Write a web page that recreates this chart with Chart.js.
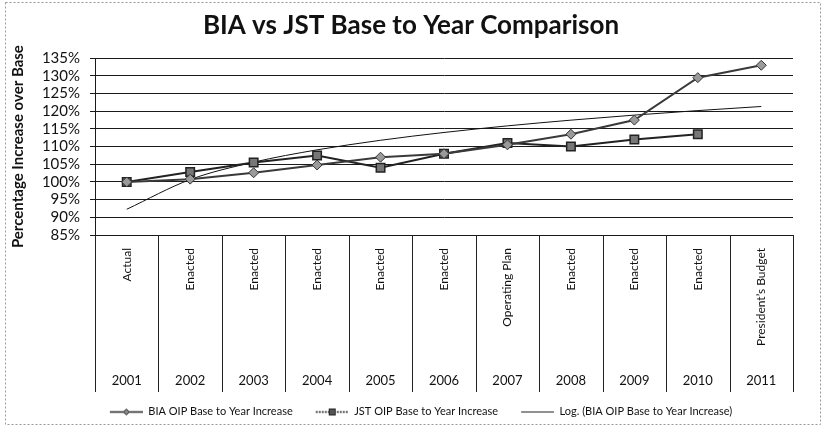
<!DOCTYPE html>
<html>
<head>
<meta charset="utf-8">
<script src="https://cdn.jsdelivr.net/npm/chart.js@4.4.1/dist/chart.umd.min.js"></script>
<style>
html, body { margin: 0; padding: 0; background: #fff; }
#wrap { width: 822px; height: 427px; position: relative; }
</style>
</head>
<body>
<div id="wrap"><canvas id="lineChart"></canvas></div>
<script>
var years = ['2001', '2002', '2003', '2004', '2005', '2006', '2007', '2008', '2009', '2010', '2011'];
var stages = ['Actual', 'Enacted', 'Enacted', 'Enacted', 'Enacted', 'Enacted', 'Operating Plan', 'Enacted', 'Enacted', 'Enacted', 'President\u2019s Budget'];
var bia_values = [100, 100.8, 102.6, 104.8, 107, 108, 110.5, 113.5, 117.5, 129.5, 133];
var jst_values = [100, 102.8, 105.5, 107.5, 104, 108, 111, 110, 112, 113.5, null];
var y_ticks = [85, 90, 95, 100, 105, 110, 115, 120, 125, 130, 135];

var FONT = 'Lato, "Open Sans", sans-serif';

// Excel style logarithmic trendline: y = a + b ln(x), x = 1..n
function logTrend(values) {
    var xs = [], ys = [];
    for (var i = 0; i < values.length; i++) {
        if (values[i] == null) continue;
        xs.push(Math.log(i + 1));
        ys.push(values[i]);
    }
    var mx = 0, my = 0;
    for (var j = 0; j < xs.length; j++) { mx += xs[j]; my += ys[j]; }
    mx /= xs.length; my /= ys.length;
    var sxy = 0, sxx = 0;
    for (var k = 0; k < xs.length; k++) {
        sxy += (xs[k] - mx) * (ys[k] - my);
        sxx += (xs[k] - mx) * (xs[k] - mx);
    }
    var b = sxy / sxx, a = my - b * mx;
    return values.map(function (v, i) { return a + b * Math.log(i + 1); });
}

// legend swatch: blank margin on the left, then line (+ marker)
function legendIcon(marker) {
    var c = document.createElement('canvas');
    var m = 20;
    c.width = m + 33; c.height = 12;
    var g = c.getContext('2d');
    g.strokeStyle = '#222';
    g.lineWidth = marker ? 1.5 : 1;
    if (marker === 'square') g.setLineDash([2, 1]);
    g.beginPath(); g.moveTo(m, 6.5); g.lineTo(m + 33, 6.5); g.stroke();
    g.setLineDash([]);
    g.fillStyle = '#8a8a8a';
    g.lineWidth = 1;
    var cx = m + 16.5;
    if (marker === 'diamond') {
        g.beginPath(); g.moveTo(cx, 3.5); g.lineTo(cx + 3, 6.5); g.lineTo(cx, 9.5); g.lineTo(cx - 3, 6.5); g.closePath();
        g.fill(); g.stroke();
    } else if (marker === 'square') {
        g.fillStyle = '#555';
        g.fillRect(cx - 3, 3.5, 6, 6); g.strokeRect(cx - 3, 3.5, 6, 6);
    }
    return c;
}
var icons = [legendIcon('diamond'), legendIcon('square'), legendIcon(null)];

var tableLines = {
    id: 'tableLines',
    afterDraw: function (chart) {
        var x = chart.scales.x, x2 = chart.scales.x2, ctx = chart.ctx;
        var half = (x.getPixelForValue(1) - x.getPixelForValue(0)) / 2;
        ctx.save();
        ctx.strokeStyle = '#222';
        ctx.lineWidth = 1;
        for (var i = 0; i <= years.length; i++) {
            var px = Math.round(x.getPixelForValue(i) - half) + 0.5;
            ctx.beginPath();
            ctx.moveTo(px, chart.chartArea.bottom);
            ctx.lineTo(px, x2.top + 19);
            ctx.stroke();
        }
        // outer frame of the chart object
        ctx.strokeStyle = '#999';
        ctx.setLineDash([2, 2]);
        ctx.strokeRect(5.5, 2.5, 815, 422);
        ctx.restore();
    }
};

var ctx = document.getElementById('lineChart').getContext('2d');
new Chart(ctx, {
    type: 'line',
    data: {
        labels: stages,
        datasets: [{
            label: 'BIA OIP Base to Year Increase',
            data: bia_values,
            borderColor: '#3a3a3a',
            borderWidth: 2,
            pointStyle: 'rectRot',
            pointRadius: 5,
            pointBackgroundColor: '#9a9a9a',
            pointBorderColor: '#333',
            pointBorderWidth: 1,
            tension: 0
        }, {
            label: 'JST OIP Base to Year Increase',
            data: jst_values,
            borderColor: '#222',
            borderWidth: 2,
            pointStyle: 'rect',
            pointRadius: 6,
            pointBackgroundColor: '#777',
            pointBorderColor: '#222',
            pointBorderWidth: 1.5,
            tension: 0
        }, {
            label: 'Log. (BIA OIP Base to Year Increase)',
            data: logTrend(bia_values),
            borderColor: '#111',
            borderWidth: 1,
            pointRadius: 0,
            cubicInterpolationMode: 'monotone'
        }]
    },
    options: {
        responsive: true,
        maintainAspectRatio: false,
        animation: false,
        layout: { padding: 0 },
        plugins: {
            tooltip: { enabled: false },
            title: {
                display: true,
                text: 'BIA vs JST Base to Year Comparison',
                color: '#111',
                font: { family: FONT, size: 26, weight: 'bold' },
                padding: { top: 10, bottom: 17 }
            },
            legend: {
                position: 'bottom',
                labels: {
                    color: '#111',
                    font: { family: FONT, size: 11 },
                    usePointStyle: true,
                    pointStyleWidth: 53,
                    boxHeight: 12,
                    padding: 3,
                    generateLabels: function (chart) {
                        var items = Chart.defaults.plugins.legend.labels.generateLabels(chart);
                        items.forEach(function (it, i) { it.pointStyle = icons[i]; });
                        return items;
                    }
                }
            }
        },
        scales: {
            y: {
                min: 85,
                max: 135,
                afterBuildTicks: function (scale) {
                    scale.ticks = y_ticks.map(function (v) { return { value: v }; });
                },
                afterFit: function (scale) { scale.width = 95; },
                ticks: {
                    color: '#111',
                    font: { family: FONT, size: 15 },
                    padding: 10,
                    autoSkip: false,
                    callback: function (v) { return v + '%'; }
                },
                grid: { color: '#1a1a1a', lineWidth: 1, tickLength: 5 },
                border: { color: '#1a1a1a' },
                title: {
                    display: true,
                    text: 'Percentage Increase over Base',
                    color: '#111',
                    font: { family: FONT, size: 15, weight: 'bold' },
                    padding: { top: 9, bottom: 0 }
                }
            },
            // empty right-hand strip so the plot ends where the original does
            yRight: {
                position: 'right',
                display: true,
                afterFit: function (scale) { scale.width = 29; },
                ticks: { display: false },
                grid: { display: false },
                border: { display: false }
            },
            x: {
                type: 'category',
                offset: true,
                weight: 0,
                afterFit: function (scale) { scale.height = 138; },
                grid: { display: false },
                border: { display: true, color: '#1a1a1a' },
                ticks: {
                    color: '#111',
                    font: { family: FONT, size: 12 },
                    minRotation: 90,
                    maxRotation: 90,
                    autoSkip: false,
                    padding: 5
                }
            },
            x2: {
                type: 'category',
                position: 'bottom',
                labels: years,
                offset: true,
                weight: 1,
                afterFit: function (scale) { scale.height = 30; },
                grid: { display: false, drawTicks: false, tickLength: 0 },
                border: { display: false },
                ticks: {
                    color: '#111',
                    font: { family: FONT, size: 13 },
                    autoSkip: false,
                    maxRotation: 0,
                    padding: 0
                }
            }
        }
    },
    plugins: [tableLines]
});
</script>
</body>
</html>
